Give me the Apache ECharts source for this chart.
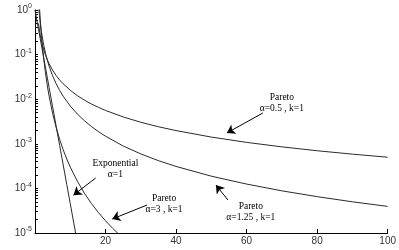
<!DOCTYPE html>
<html>
<head>
<meta charset="utf-8">
<script src="https://cdn.jsdelivr.net/npm/echarts@6/dist/echarts.min.js"></script>
<style>html,body{margin:0;padding:0;background:#fff}#c{width:399px;height:250px}</style>
</head>
<body>
<div id="c"></div>
<script>
// ---- data ----
const xTickLabels = [20, 40, 60, 80, 100];
const yTickExps = [0, -1, -2, -3, -4, -5];

const xExp = [0, 1, 2, 3, 4, 5, 6, 7, 8, 9, 10, 11, 12];
const yExp = [1, 0.368, 0.135, 0.0498, 0.0183, 0.00674, 0.00248, 0.000912, 0.000335, 0.000123, 0.0000454, 0.0000167, 0.0000061];

const xP3 = [1, 1.25, 1.5, 1.75, 2, 2.5, 3, 3.5, 4, 5, 6, 7, 8, 9, 10, 12, 14, 16, 18, 20, 22, 24, 26];
const yP3 = [3, 1.229, 0.593, 0.32, 0.1875, 0.0768, 0.037, 0.02, 0.0117, 0.0048, 0.00231, 0.00125, 0.000732, 0.000457, 0.0003, 0.000145, 0.0000781, 0.0000458, 0.0000286, 0.00001875, 0.0000128, 0.00000904, 0.00000656];

const xP = [1, 1.25, 1.5, 1.75, 2, 2.5, 3, 3.5, 4, 5, 6, 7, 8, 10, 12, 14, 16, 18, 20, 25, 30, 35, 40, 50, 60, 70, 80, 90, 100];
const yP125 = [1.25, 0.757, 0.502, 0.355, 0.263, 0.159, 0.1056, 0.0746, 0.0552, 0.0334, 0.0222, 0.01568, 0.01162, 0.00703, 0.00466, 0.0033, 0.00244, 0.00187, 0.00148, 0.000894, 0.000593, 0.000419, 0.000311, 0.000188, 0.000125, 0.0000882, 0.0000653, 0.0000501, 0.0000395];
const yP05 = [0.5, 0.3578, 0.2722, 0.216, 0.1768, 0.1265, 0.0962, 0.0764, 0.0625, 0.0447, 0.034, 0.027, 0.0221, 0.0158, 0.01203, 0.00955, 0.00781, 0.00655, 0.00559, 0.004, 0.00304, 0.00241, 0.00198, 0.001414, 0.001076, 0.000854, 0.000699, 0.000586, 0.0005];

// annotations (data coordinates)
const labels = [
  {lines: ['Pareto', 'α=0.5 , k=1'], x: 70.0, y: 0.0084},
  {lines: ['Pareto', 'α=1.25 , k=1'], x: 61.2, y: 0.0000303},
  {lines: ['Exponential', 'α=1'], x: 22.8, y: 0.000279},
  {lines: ['Pareto', 'α=3 , k=1'], x: 36.6, y: 0.0000447}
];
const arrows = [
  [[64.6, 0.0049], [54.4, 0.00175]],
  [[54.7, 0.000055], [51.3, 0.000119]],
  [[17.2, 0.000171], [10.9, 0.0000705]],
  [[31.8, 0.0000425], [21.9, 0.0000206]]
];

function pairs(xs, ys) { return xs.map((x, i) => [x, ys[i]]); }

const minorVals = [];
for (let e = -5; e <= 0; e++) {
  for (let m = 1; m <= 9; m++) {
    const v = m * Math.pow(10, e);
    if (v <= 1.0000001) minorVals.push(v);
  }
}

const chart = echarts.init(document.getElementById('c'), null, {renderer: 'canvas'});
const lineStyle = {color: '#2a2a2a', width: 1};
function curve(data) {
  return {
    type: 'line', data: data, showSymbol: false, symbol: 'none',
    smooth: false, clip: true,
    lineStyle: lineStyle, silent: true, animation: false
  };
}

chart.setOption({
  animation: false,
  grid: {left: 35, right: 10, top: 10, bottom: 17, containLabel: false},
  xAxis: {
    type: 'value', min: 0, max: 100, interval: 20,
    axisLine: {show: true, lineStyle: {color: '#000', width: 1}},
    axisTick: {show: true, inside: true, length: 4, lineStyle: {color: '#000'}, customValues: xTickLabels},
    axisLabel: {show: true, customValues: xTickLabels, color: '#333', fontFamily: 'Liberation Sans', fontSize: 10, margin: 3},
    splitLine: {show: false}
  },
  yAxis: {
    type: 'log', logBase: 10, min: 0.00001, max: 1,
    axisLine: {show: true, onZero: false, lineStyle: {color: '#000', width: 1}},
    axisTick: {show: true, inside: true, length: 3, lineStyle: {color: '#000'}, customValues: minorVals},
    axisLabel: {
      show: true, customValues: yTickExps.map(e => Math.pow(10, e)),
      color: '#333', fontFamily: 'Liberation Sans', fontSize: 10, margin: 3,
      formatter: function (v) {
        const e = Math.round(Math.log10(v));
        return '10{s|' + e + '}';
      },
      rich: {s: {fontSize: 7, verticalAlign: 'top', padding: [0, 0, 7, 0], fontFamily: 'Liberation Sans', color: '#333'}}
    },
    splitLine: {show: false}
  },
  series: [
    curve(pairs(xExp, yExp)),
    curve(pairs(xP3, yP3)),
    curve(pairs(xP, yP125)),
    curve(pairs(xP, yP05)),
    {
      type: 'scatter', data: [], silent: true,
      markLine: {
        silent: true, animation: false,
        symbol: ['none', 'arrow'], symbolSize: 8,
        label: {show: false},
        lineStyle: {color: '#000', width: 1, type: 'solid'},
        data: arrows.map(a => [{coord: a[0]}, {coord: a[1]}])
      }
    }
  ]
});

// place annotation text at the data positions
const texts = [];
labels.forEach(l => {
  const p = chart.convertToPixel({gridIndex: 0}, [l.x, l.y]);
  l.lines.forEach((t, i) => {
    texts.push({
      type: 'text', x: p[0], y: p[1] + (i - 0.5) * 11, silent: true,
      style: {text: t, fill: '#000', font: '9.5px "Liberation Serif"', textAlign: 'center', textVerticalAlign: 'middle'}
    });
  });
});
chart.setOption({graphic: texts});
</script>
</body>
</html>
